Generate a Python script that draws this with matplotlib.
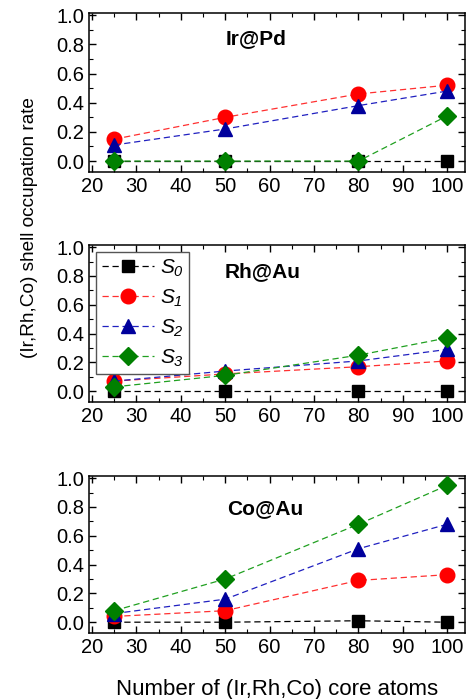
import matplotlib
matplotlib.use("Agg")
import matplotlib.pyplot as plt
from matplotlib.ticker import MultipleLocator, FormatStrFormatter

plt.rcParams['font.family'] = ['Liberation Sans', 'DejaVu Sans']
plt.rcParams['mathtext.fontset'] = 'custom'
plt.rcParams['mathtext.it'] = 'Liberation Sans:italic'
plt.rcParams['mathtext.rm'] = 'Liberation Sans:italic'

core_atoms = [25, 50, 80, 100]
panels = ["Ir@Pd", "Rh@Au", "Co@Au"]
series_labels = [r"$S_0$", r"$S_1$", r"$S_2$", r"$S_3$"]

irpd_s0 = [0.0, 0.0, 0.0, 0.0]
irpd_s1 = [0.15, 0.30, 0.46, 0.52]
irpd_s2 = [0.11, 0.22, 0.38, 0.48]
irpd_s3 = [0.0, 0.0, 0.0, 0.31]

rhau_s0 = [0.0, 0.0, 0.0, 0.0]
rhau_s1 = [0.07, 0.12, 0.17, 0.21]
rhau_s2 = [0.07, 0.14, 0.21, 0.29]
rhau_s3 = [0.03, 0.11, 0.25, 0.37]

coau_s0 = [0.0, 0.0, 0.01, 0.0]
coau_s1 = [0.04, 0.08, 0.29, 0.33]
coau_s2 = [0.06, 0.16, 0.51, 0.68]
coau_s3 = [0.08, 0.30, 0.68, 0.95]

data = [
    [irpd_s0, irpd_s1, irpd_s2, irpd_s3],
    [rhau_s0, rhau_s1, rhau_s2, rhau_s3],
    [coau_s0, coau_s1, coau_s2, coau_s3],
]

markers = ['s', 'o', '^', 'D']
mcolors = ['#000000', '#ff0000', '#00009c', '#008000']
lcolors = ['#000000', '#ff3030', '#2020c0', '#20a020']
msizes = [8.5, 10.5, 10.5, 9]

fig = plt.figure(figsize=(4.68, 6.99), dpi=100)
W, H = 468, 699
boxes = [(89, 13, 465, 172), (89, 245, 465, 402), (89, 476, 465, 633)]
title_pos = [(57, 0.84), (58.5, 0.83), (59, 0.79)]

for i, (name, box) in enumerate(zip(panels, boxes)):
    l, t, r, b = box
    ax = fig.add_axes([l / W, 1 - b / H, (r - l) / W, (b - t) / H])
    for j in range(4):
        ax.plot(core_atoms, data[i][j], linestyle=(0, (5, 3)), linewidth=0.9,
                color=lcolors[j], marker=markers[j], markersize=msizes[j],
                markerfacecolor=mcolors[j], markeredgecolor=mcolors[j],
                label=series_labels[j], zorder=2 + j)
    ax.set_xlim(19.3, 104)
    ax.set_ylim(-0.075, 1.015)
    ax.xaxis.set_major_locator(MultipleLocator(10))
    ax.xaxis.set_minor_locator(MultipleLocator(5))
    ax.yaxis.set_major_locator(MultipleLocator(0.2))
    ax.yaxis.set_minor_locator(MultipleLocator(0.1))
    ax.yaxis.set_major_formatter(FormatStrFormatter('%.1f'))
    ax.tick_params(which='both', direction='in', top=True, right=True, labelsize=14.5)
    ax.tick_params(which='major', length=5, width=1)
    ax.tick_params(which='minor', length=3, width=0.8)
    for s in ax.spines.values():
        s.set_linewidth(1.1)
    tx, ty = title_pos[i]
    ax.text(tx, ty, name, fontsize=15, fontweight='bold', ha='center', va='center')
    if i == 1:
        ax.legend(loc='upper left', fontsize=15, frameon=True, fancybox=False,
                  edgecolor='#555555', framealpha=1, borderpad=0.25,
                  labelspacing=0.42, handlelength=2.5, handletextpad=0.3,
                  borderaxespad=0.35)
    if i == 2:
        ax.set_xlabel("Number of (Ir,Rh,Co) core atoms", fontsize=16, labelpad=16)

fig.text(30 / W, 1 - 228 / H, "(Ir,Rh,Co) shell occupation rate", rotation=90,
         fontsize=13.7, ha='center', va='center')

fig.savefig("out.png", dpi=100)
